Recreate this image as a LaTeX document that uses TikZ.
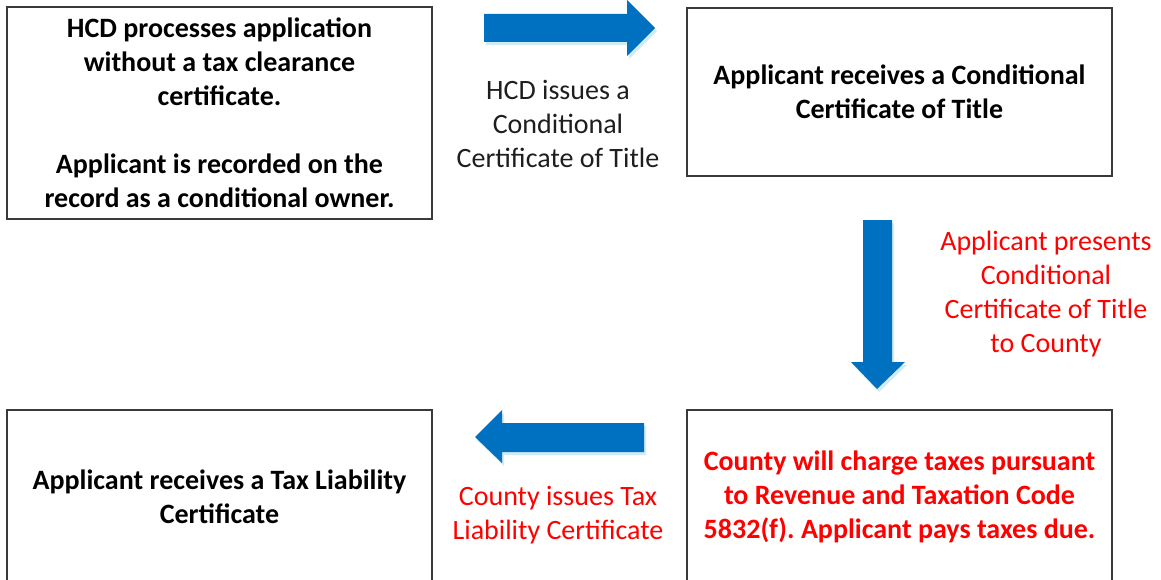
\documentclass[tikz,border=0pt]{standalone}
\usepackage{fontspec}
\setmainfont{Carlito}
\frenchspacing
\definecolor{arrowblue}{HTML}{0070C0}
\definecolor{shadowblue}{HTML}{BFE3EF}
\definecolor{boxline}{HTML}{3A3A3A}
\definecolor{lbl}{HTML}{1E1E1E}
\definecolor{redtxt}{HTML}{FF0000}
\tikzset{
  stepbox/.style={draw=boxline, line width=1.6pt, fill=white, minimum width=425pt, inner sep=0pt, align=center,
    font=\fontsize{28}{34}\selectfont\bfseries},
  lbltext/.style={inner sep=0pt, align=center, font=\fontsize{28}{34}\selectfont, text=lbl},
  redlbl/.style={lbltext, text=redtxt},
  blockarrow/.style={fill=arrowblue, draw=none},
  arrowshadow/.style={fill=shadowblue, draw=none, opacity=0.7}
}
\begin{document}
\begin{tikzpicture}[x=1pt, y=-1pt]
\useasboundingbox (0,0) rectangle (1161,580);
\fill[white] (0,0) rectangle (1161,580);
% boxes
\node[stepbox, minimum height=212pt] (b1) at (219.5,113) {HCD processes application\\without a tax clearance\\certificate.\\[34pt]Applicant is recorded on the\\record as a conditional owner.};
\node[stepbox, minimum height=168pt] (b2) at (899.5,92) {Applicant receives a Conditional\\Certificate of Title};
\node[stepbox, minimum height=174pt] (b3) at (219.5,497) {Applicant receives a Tax Liability\\Certificate};
\node[stepbox, minimum height=174pt, text=redtxt] (b4) at (899.5,497) {County will charge taxes pursuant\\to Revenue and Taxation Code\\5832(f). Applicant pays taxes due.};
% labels
\node[lbltext] (l1) at (558,124) {HCD issues a\\Conditional\\Certificate of Title};
\node[redlbl] (l2) at (1046,294.5) {Applicant presents\\Conditional\\Certificate of Title\\to County};
\node[redlbl] (l3) at (558,515.5) {County issues Tax\\Liability Certificate};
% block arrows (soft shadows)
\fill[arrowshadow] (486,17) -- (629,17) -- (629,3) -- (657,31) -- (629,59) -- (629,45) -- (486,45) -- cycle;
\fill[arrowshadow] (865,223) -- (894,223) -- (894,365) -- (907,365) -- (879,392) -- (853,365) -- (865,365) -- cycle;
\fill[arrowshadow] (646,426) -- (504,426) -- (504,413) -- (477,440) -- (504,466) -- (504,455) -- (646,455) -- cycle;
% block arrows
\coordinate (ra) at (655,28);
\fill[blockarrow] (484,14) -- (627,14) -- (627,0) -- (ra) -- (627,56) -- (627,42) -- (484,42) -- cycle;
\coordinate (da) at (877,389);
\fill[blockarrow] (863,220) -- (892,220) -- (892,362) -- (905,362) -- (da) -- (851,362) -- (863,362) -- cycle;
\coordinate (la) at (475,437);
\fill[blockarrow] (644,423) -- (502,423) -- (502,410) -- (la) -- (502,463) -- (502,452) -- (644,452) -- cycle;
\end{tikzpicture}
\end{document}
